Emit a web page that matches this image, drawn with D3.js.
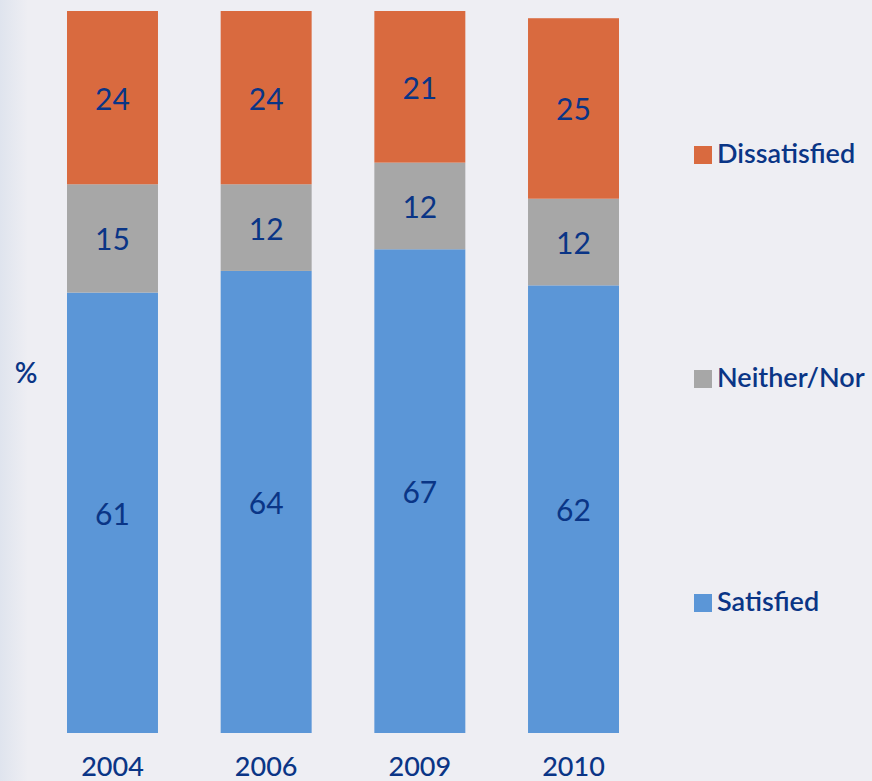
<!DOCTYPE html>
<html>
<head>
<meta charset="utf-8">
<script src="https://cdn.jsdelivr.net/npm/d3@7/dist/d3.min.js"></script>
<style>
  html, body { margin: 0; padding: 0; background: #eeeef3; }
  svg { display: block; }
  text { font-family: Lato, "Open Sans", sans-serif; fill: #0a3586; }
</style>
</head>
<body>
<svg id="chart" width="872" height="781"></svg>
<script>
// Satisfaction survey results by year (percent)
const years = ["2004", "2006", "2009", "2010"];
const satisfied = [61, 64, 67, 62];
const neither = [15, 12, 12, 12];
const dissatisfied = [24, 24, 21, 25];
const seriesNames = ["Satisfied", "Neither/Nor", "Dissatisfied"];
const seriesColors = ["#5b96d7", "#a7a7a7", "#d96a3f"];

const rows = years.map((y, i) => ({
  year: y,
  "Satisfied": satisfied[i],
  "Neither/Nor": neither[i],
  "Dissatisfied": dissatisfied[i]
}));

const svg = d3.select("#chart");
const W = 872, H = 781;

// soft bluish edge on the left side of the canvas
const defs = svg.append("defs");
const grad = defs.append("linearGradient").attr("id", "edge")
  .attr("x1", 0).attr("x2", 1).attr("y1", 0).attr("y2", 0);
grad.append("stop").attr("offset", 0).attr("stop-color", "#dfe4ee");
grad.append("stop").attr("offset", 1).attr("stop-color", "#eeeef3");
svg.append("rect").attr("width", W).attr("height", H).attr("fill", "#eeeef3");
svg.append("rect").attr("width", 28).attr("height", H).attr("fill", "url(#edge)");

const x = d3.scaleBand().domain(years).range([67, 619]).paddingInner(0.408).paddingOuter(0);
const y = d3.scaleLinear().domain([0, 100]).range([733, 11]);
const color = d3.scaleOrdinal().domain(seriesNames).range(seriesColors);

const stacked = d3.stack().keys(seriesNames)(rows);

const layers = svg.append("g").selectAll("g")
  .data(stacked).join("g")
  .attr("fill", d => color(d.key));

layers.selectAll("rect")
  .data(d => d)
  .join("rect")
  .attr("x", d => x(d.data.year))
  .attr("width", x.bandwidth())
  .attr("y", d => y(d[1]))
  .attr("height", d => y(d[0]) - y(d[1]));

// value labels centred in each segment
layers.selectAll("text")
  .data(d => d.map(v => ({ v, key: d.key })))
  .join("text")
  .attr("x", d => x(d.v.data.year) + x.bandwidth() / 2)
  .attr("y", d => (y(d.v[0]) + y(d.v[1])) / 2)
  .attr("text-anchor", "middle")
  .attr("dominant-baseline", "central")
  .attr("font-size", 30)
  .text(d => d.v.data[d.key]);

// category axis
const xAxis = svg.append("g")
  .attr("transform", `translate(0,${y(0)})`)
  .call(d3.axisBottom(x).tickSize(0).tickPadding(24));
xAxis.select(".domain").remove();
xAxis.selectAll("text")
  .attr("font-size", 27)
  .attr("font-weight", 500)
  .style("font-family", "Lato, sans-serif")
  .attr("fill", "#0a3586");

// unit label
svg.append("text")
  .attr("x", 26).attr("y", 372)
  .attr("text-anchor", "middle")
  .attr("dominant-baseline", "central")
  .attr("font-size", 28)
  .attr("font-weight", 600)
  .text("%");

// legend
const legendY = d3.scalePoint().domain(["Dissatisfied", "Neither/Nor", "Satisfied"]).range([155, 603]);
const legend = svg.append("g").selectAll("g")
  .data(legendY.domain()).join("g")
  .attr("transform", d => `translate(694,${legendY(d)})`);
legend.append("rect")
  .attr("x", 0).attr("y", -9).attr("width", 18).attr("height", 18)
  .attr("fill", d => color(d));
legend.append("text")
  .attr("x", 23).attr("y", 8)
  .attr("font-size", 27)
  .attr("font-weight", 600)
  .text(d => d);
</script>
</body>
</html>
